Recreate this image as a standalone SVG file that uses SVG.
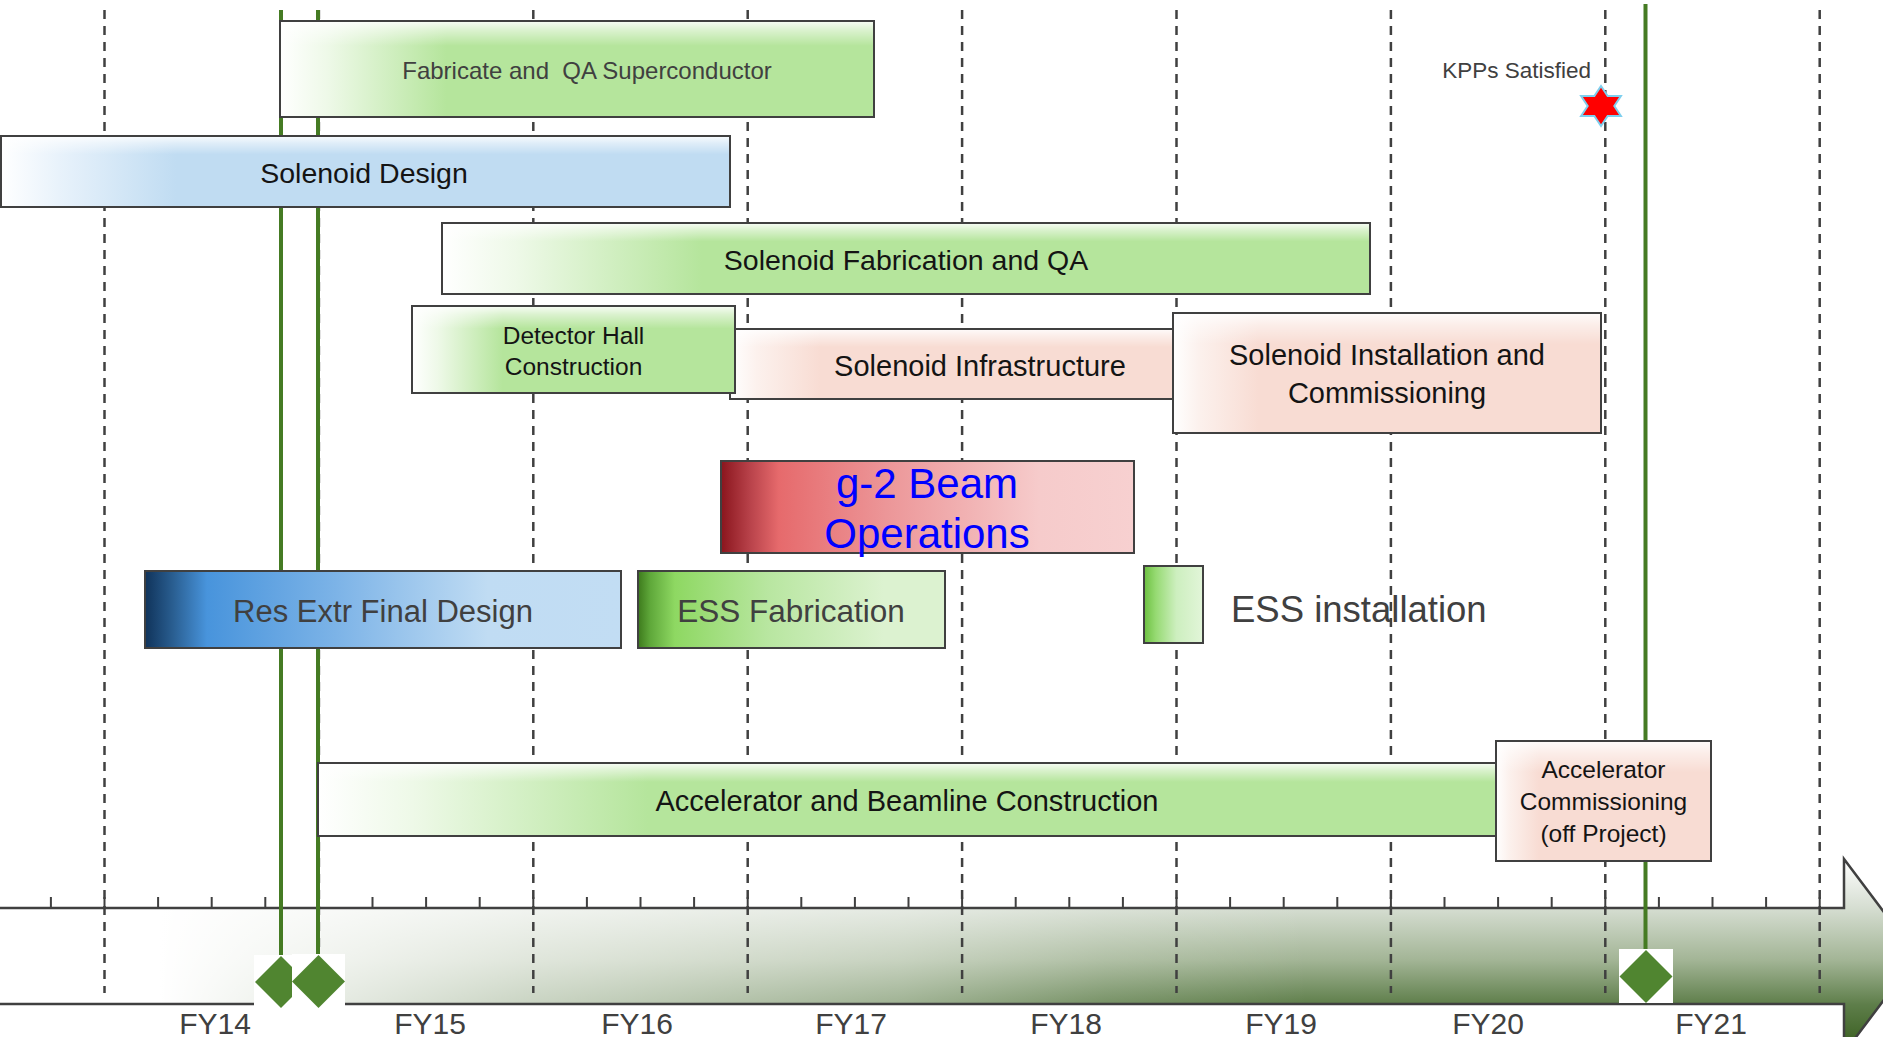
<svg xmlns="http://www.w3.org/2000/svg" width="1883" height="1037" viewBox="0 0 1883 1037">
<style>
  text { font-family: "Liberation Sans", Arial, sans-serif; }
  .lbl { fill: #141414; text-anchor: middle; }
  .grey { fill: #404040; }
  .mid { text-anchor: middle; }
  .frame { stroke: #404040; stroke-width: 2; }
  .shine { fill: url(#gShine); stroke: #404040; stroke-width: 2; }
  .grid { stroke: #404040; stroke-width: 2.5; stroke-dasharray: 9 7; fill: none; }
  .ms { stroke: #457b23; stroke-width: 4; fill: none; }
  .dia { fill: #508530; }
  .fy { fill: #404040; font-size: 30px; text-anchor: middle; }
</style>
<defs>
  <linearGradient id="gGreen" x1="0" y1="0" x2="1" y2="0">
    <stop offset="0" stop-color="#ffffff"/>
    <stop offset="0.08" stop-color="#eef9e8"/>
    <stop offset="0.28" stop-color="#b5e59c"/>
    <stop offset="1" stop-color="#b5e59c"/>
  </linearGradient>
  <linearGradient id="gBlue" x1="0" y1="0" x2="1" y2="0">
    <stop offset="0" stop-color="#ffffff"/>
    <stop offset="0.08" stop-color="#e8f2fb"/>
    <stop offset="0.24" stop-color="#c0dcf2"/>
    <stop offset="1" stop-color="#c0dcf2"/>
  </linearGradient>
  <linearGradient id="gPink" x1="0" y1="0" x2="1" y2="0">
    <stop offset="0" stop-color="#ffffff"/>
    <stop offset="0.06" stop-color="#fcf1ed"/>
    <stop offset="0.2" stop-color="#f8dcd3"/>
    <stop offset="1" stop-color="#f8dcd3"/>
  </linearGradient>
  <linearGradient id="gShine" x1="0" y1="0" x2="0" y2="1">
    <stop offset="0" stop-color="#ffffff" stop-opacity="0.9"/>
    <stop offset="0.1" stop-color="#ffffff" stop-opacity="0.5"/>
    <stop offset="0.26" stop-color="#ffffff" stop-opacity="0"/>
    <stop offset="1" stop-color="#ffffff" stop-opacity="0"/>
  </linearGradient>
  <linearGradient id="gRed" x1="0" y1="0" x2="1" y2="0">
    <stop offset="0" stop-color="#8a151d"/>
    <stop offset="0.07" stop-color="#b8424a"/>
    <stop offset="0.14" stop-color="#e66a6c"/>
    <stop offset="0.4" stop-color="#ec9698"/>
    <stop offset="0.77" stop-color="#f6cbcb"/>
    <stop offset="1" stop-color="#f7d0d0"/>
  </linearGradient>
  <linearGradient id="gNavy" x1="0" y1="0" x2="1" y2="0">
    <stop offset="0" stop-color="#10335a"/>
    <stop offset="0.06" stop-color="#2a5f92"/>
    <stop offset="0.13" stop-color="#4894dc"/>
    <stop offset="0.4" stop-color="#7cb3e7"/>
    <stop offset="0.72" stop-color="#c0dcf3"/>
    <stop offset="1" stop-color="#c2ddf3"/>
  </linearGradient>
  <linearGradient id="gEss" x1="0" y1="0" x2="1" y2="0">
    <stop offset="0" stop-color="#3d7a1c"/>
    <stop offset="0.04" stop-color="#5fa83a"/>
    <stop offset="0.12" stop-color="#8ed862"/>
    <stop offset="0.42" stop-color="#b8e6a0"/>
    <stop offset="0.8" stop-color="#dcf2d0"/>
    <stop offset="1" stop-color="#dcf2d0"/>
  </linearGradient>
  <linearGradient id="gEssI" x1="0" y1="0" x2="1" y2="0">
    <stop offset="0" stop-color="#6cc040"/>
    <stop offset="0.2" stop-color="#96da72"/>
    <stop offset="0.55" stop-color="#cdefbf"/>
    <stop offset="1" stop-color="#e2f5d9"/>
  </linearGradient>
  <linearGradient id="bandV" gradientUnits="userSpaceOnUse" x1="0" y1="859" x2="0" y2="1053">
    <stop offset="0" stop-color="#ffffff"/>
    <stop offset="0.25" stop-color="#d6ded2"/>
    <stop offset="0.52" stop-color="#a3b596"/>
    <stop offset="0.75" stop-color="#5e7e4a"/>
    <stop offset="1" stop-color="#345a1a"/>
  </linearGradient>
  <linearGradient id="bandH" gradientUnits="userSpaceOnUse" x1="0" y1="0" x2="1843" y2="0">
    <stop offset="0" stop-color="#ffffff" stop-opacity="1"/>
    <stop offset="0.087" stop-color="#ffffff" stop-opacity="1"/>
    <stop offset="0.29" stop-color="#ffffff" stop-opacity="0.66"/>
    <stop offset="0.49" stop-color="#ffffff" stop-opacity="0.4"/>
    <stop offset="0.6" stop-color="#ffffff" stop-opacity="0.15"/>
    <stop offset="0.71" stop-color="#ffffff" stop-opacity="0"/>
    <stop offset="1" stop-color="#ffffff" stop-opacity="0"/>
  </linearGradient>
</defs>

<rect x="0" y="0" width="1883" height="1037" fill="#ffffff"/>

<g id="timeline">
  <polygon points="-5,908 1844,908 1844,859 1917,956 1844,1053 1844,1004 -5,1004" fill="url(#bandV)"/>
  <polygon points="-5,908 1844,908 1844,859 1917,956 1844,1053 1844,1004 -5,1004" fill="url(#bandH)" stroke="#404040" stroke-width="2.5"/>
  <path stroke="#404040" stroke-width="2" fill="none" d="M50.9,897v11 M104.5,897v11 M158.1,897v11 M211.7,897v11 M265.3,897v11 M318.9,897v11 M372.5,897v11 M426.1,897v11 M479.7,897v11 M533.3,897v11 M586.9,897v11 M640.5,897v11 M694.1,897v11 M747.7,897v11 M801.3,897v11 M854.9,897v11 M908.5,897v11 M962.1,897v11 M1015.7,897v11 M1069.3,897v11 M1122.9,897v11 M1176.5,897v11 M1230.1,897v11 M1283.7,897v11 M1337.3,897v11 M1390.9,897v11 M1444.5,897v11 M1498.1,897v11 M1551.7,897v11 M1605.3,897v11 M1658.9,897v11 M1712.5,897v11 M1766.1,897v11 M1819.7,897v11"/>
  <text class="fy" x="215" y="1034">FY14</text>
  <text class="fy" x="430" y="1034">FY15</text>
  <text class="fy" x="637" y="1034">FY16</text>
  <text class="fy" x="851" y="1034">FY17</text>
  <text class="fy" x="1066" y="1034">FY18</text>
  <text class="fy" x="1281" y="1034">FY19</text>
  <text class="fy" x="1488" y="1034">FY20</text>
  <text class="fy" x="1711" y="1034">FY21</text>
</g>

<g id="grid">
  <path class="grid" d="M104.5,10V993 M318.9,10V993 M533.3,10V993 M747.7,10V993 M962.1,10V993 M1176.5,10V993 M1390.9,10V993 M1605.3,10V993 M1819.7,10V993"/>
</g>

<g id="connectors">
  <path class="ms" d="M281,10V958 M318,10V957 M1645.5,4V952"/>
</g>

<g id="milestone-1">
  <rect x="254" y="955" width="38" height="53" fill="#ffffff"/>
  <polygon class="dia" points="281,956 307,982 281,1008 255,982"/>
</g>
<g id="milestone-2">
  <rect x="292" y="954" width="53" height="54" fill="#ffffff"/>
  <polygon class="dia" points="318.5,955 345,981.5 318.5,1008 292,981.5"/>
</g>
<g id="milestone-3">
  <rect x="1619" y="949" width="54" height="54" fill="#ffffff"/>
  <polygon class="dia" points="1646,950 1672.5,976.5 1646,1003 1619.5,976.5"/>
</g>

<g id="kpps">
  <text class="grey" x="1591" y="78" font-size="22.5" text-anchor="end">KPPs Satisfied</text>
  <polygon transform="translate(1601,106)" fill="#ff0000" stroke="#7ecfee" stroke-width="2" points="0,-20 6.65,-10 19.9,-10 13.3,0 19.9,10 6.65,10 0,20 -6.65,10 -19.9,10 -13.3,0 -19.9,-10 -6.65,-10"/>
</g>

<g id="fabricate-qa-superconductor">
  <rect x="280" y="21" width="594" height="96" fill="url(#gGreen)"/>
  <rect class="shine" x="280" y="21" width="594" height="96"/>
  <text class="grey mid" x="587" y="79" font-size="24" xml:space="preserve">Fabricate and  QA Superconductor</text>
</g>

<g id="solenoid-design">
  <rect x="1" y="136" width="729" height="71" fill="url(#gBlue)"/>
  <rect class="shine" x="1" y="136" width="729" height="71"/>
  <text class="lbl" x="364" y="183" font-size="28.5">Solenoid Design</text>
</g>

<g id="solenoid-fabrication">
  <rect x="442" y="223" width="928" height="71" fill="url(#gGreen)"/>
  <rect class="shine" x="442" y="223" width="928" height="71"/>
  <text class="lbl" x="906" y="270" font-size="28.5">Solenoid Fabrication and QA</text>
</g>

<g id="solenoid-infrastructure">
  <rect x="730" y="329" width="450" height="70" fill="url(#gPink)"/>
  <rect class="shine" x="730" y="329" width="450" height="70"/>
  <text class="lbl" x="980" y="376" font-size="29">Solenoid Infrastructure</text>
</g>

<g id="detector-hall">
  <rect x="412" y="306" width="323" height="87" fill="url(#gGreen)"/>
  <rect class="shine" x="412" y="306" width="323" height="87"/>
  <text class="lbl" x="573.5" y="344" font-size="24.5">Detector Hall</text>
  <text class="lbl" x="573.5" y="375" font-size="24.5">Construction</text>
</g>

<g id="solenoid-installation">
  <rect x="1173" y="313" width="428" height="120" fill="url(#gPink)"/>
  <rect class="shine" x="1173" y="313" width="428" height="120"/>
  <text class="lbl" x="1387" y="365" font-size="29">Solenoid Installation and</text>
  <text class="lbl" x="1387" y="403" font-size="29">Commissioning</text>
</g>

<g id="g2-beam-operations">
  <rect class="frame" x="721" y="461" width="413" height="92" fill="url(#gRed)"/>
  <text x="927" y="498" font-size="42" fill="#0000ff" text-anchor="middle">g-2 Beam</text>
  <text x="927" y="548" font-size="42" fill="#0000ff" text-anchor="middle">Operations</text>
</g>

<g id="res-extr-final-design">
  <rect class="frame" x="145" y="571" width="476" height="77" fill="url(#gNavy)"/>
  <text class="grey mid" x="383" y="622" font-size="31">Res Extr Final Design</text>
</g>

<g id="ess-fabrication">
  <rect class="frame" x="638" y="571" width="307" height="77" fill="url(#gEss)"/>
  <text class="grey mid" x="791" y="622" font-size="31.5">ESS Fabrication</text>
</g>

<g id="ess-installation">
  <rect class="frame" x="1144" y="566" width="59" height="77" fill="url(#gEssI)"/>
  <text class="grey" x="1231" y="622" font-size="36.5">ESS installation</text>
</g>

<g id="accelerator-beamline">
  <rect x="318" y="763" width="1178" height="73" fill="url(#gGreen)"/>
  <rect class="shine" x="318" y="763" width="1178" height="73"/>
  <text class="lbl" x="907" y="811" font-size="29">Accelerator and Beamline Construction</text>
</g>

<g id="accelerator-commissioning">
  <rect x="1496" y="741" width="215" height="120" fill="url(#gPink)"/>
  <rect class="shine" x="1496" y="741" width="215" height="120"/>
  <text class="lbl" x="1603.5" y="778" font-size="24.5">Accelerator</text>
  <text class="lbl" x="1603.5" y="810" font-size="24.5">Commissioning</text>
  <text class="lbl" x="1603.5" y="842" font-size="24.5">(off Project)</text>
</g>
</svg>
